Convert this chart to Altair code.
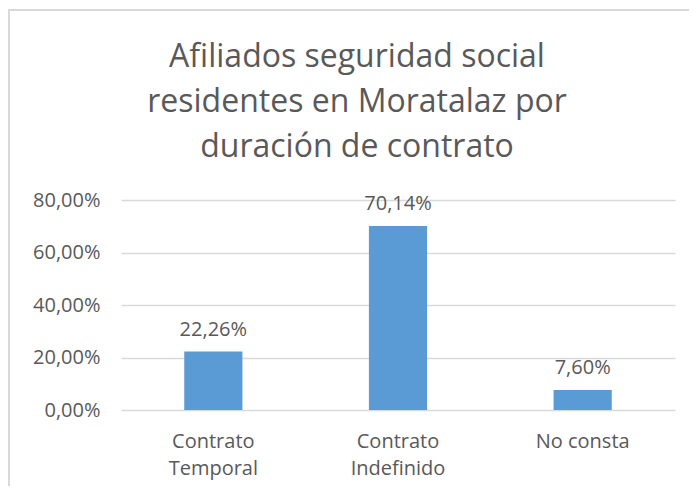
import altair as alt
import pandas as pd

categories = ["Contrato Temporal", "Contrato Indefinido", "No consta"]
values = [22.26, 70.14, 7.60]
y_ticks = [0, 20, 40, 60, 80]
title_lines = ["Afiliados seguridad social", "residentes en Moratalaz por", "duración de contrato"]

df = pd.DataFrame({"cat": categories, "v": values})

FONT = "Open Sans"
GRAY = "#595959"
W, H = 554, 210
FS = 20

x = alt.X("cat:N", sort=categories, title=None,
          scale=alt.Scale(paddingInner=0.685, paddingOuter=0.3425),
          axis=alt.Axis(labelAngle=0, labelFont=FONT, labelFontSize=FS, labelColor=GRAY,
                        labelPadding=21, ticks=False, domain=False, grid=False,
                        labelLineHeight=27,
                        labelExpr="datum.value == 'Contrato Temporal' ? ['Contrato','Temporal'] : datum.value == 'Contrato Indefinido' ? ['Contrato','Indefinido'] : datum.value"))
y = alt.Y("v:Q", title=None, scale=alt.Scale(domain=[0, 80], nice=False),
          axis=alt.Axis(values=y_ticks, labelFont=FONT, labelFontSize=FS, labelColor=GRAY,
                        labelPadding=21, ticks=False, domain=False, gridColor="#d9d9d9",
                        gridWidth=1.5,
                        labelExpr="replace(format(datum.value, '.2f'), '.', ',') + '%'"))

bars = alt.Chart(df).mark_bar(color="#5b9bd5").encode(x=x, y=y)
labels = alt.Chart(df).mark_text(font=FONT, fontSize=FS, color=GRAY, baseline="alphabetic", dy=-16).encode(
    x=alt.X("cat:N", sort=categories), y="v:Q",
    text=alt.Text("lbl:N")).transform_calculate(
    lbl="replace(format(datum.v, '.2f'), '.', ',') + '%'")

border = alt.Chart(alt.Data(values=[{}])).mark_rect(fill=None, stroke="#d9d9d9", strokeWidth=2).encode(
    x=alt.value(-112), x2=alt.value(W + 200), y=alt.value(-190), y2=alt.value(H + 200))

title = alt.Chart(alt.Data(values=[{}])).mark_text(
    text=title_lines, font=FONT, fontSize=32, color=GRAY, lineHeight=45,
    align="center", baseline="alphabetic").encode(
    x=alt.value(W / 2 - 41), y=alt.value(-133))

chart = alt.layer(border, title, bars, labels).properties(
    width=W, height=H,
    autosize=alt.AutoSizeParams(type="none"),
    padding={"left": 113, "top": 192, "right": 14, "bottom": 76},
).configure_view(stroke=None)

chart.save("out.html", embed_options={"renderer": "svg", "actions": False})
